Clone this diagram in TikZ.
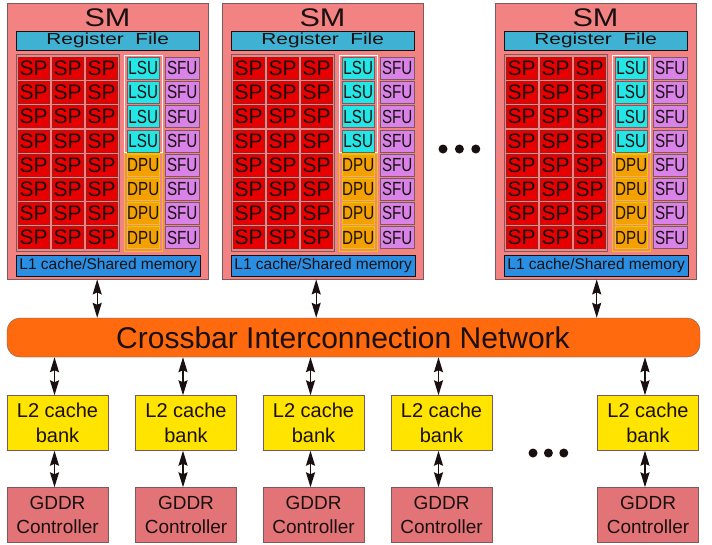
\documentclass[tikz,border=0pt]{standalone}
\usepackage{fontspec}
\setmainfont{Liberation Sans}
\newfontfamily\narrowfont[FakeStretch=0.8]{Liberation Sans}
\newfontfamily\widefont[FakeStretch=1.2]{Liberation Sans}
\newfontfamily\regfont[FakeStretch=1.3]{Liberation Sans}
\usepackage{xcolor}
\usetikzlibrary{arrows.meta,positioning}

\definecolor{ink}{HTML}{1A1010}
\definecolor{smred}{HTML}{F38383}
\definecolor{smline}{HTML}{7A5A5A}
\definecolor{regblue}{HTML}{3FB2D4}
\definecolor{lcacheblue}{HTML}{2A8FE3}
\definecolor{spred}{HTML}{E80000}
\definecolor{spline}{HTML}{9A2020}
\definecolor{lsucyan}{HTML}{24E6E6}
\definecolor{dpuorange}{HTML}{F2A100}
\definecolor{dpuline}{HTML}{E8C800}
\definecolor{sfuviolet}{HTML}{D982E8}
\definecolor{xbarorange}{HTML}{FF6A0E}
\definecolor{ltwoyellow}{HTML}{FFE400}
\definecolor{gddrrose}{HTML}{E27478}

\begin{document}
\begin{tikzpicture}[x=1pt, y=-1pt,
  every node/.style={inner sep=0pt, text=ink},
  sm/.style={draw=smline, fill=smred, anchor=north west,
    minimum width=201pt, minimum height=276pt},
  regf/.style={draw=ink, fill=regblue, anchor=north west,
    minimum width=183pt, minimum height=19pt,
    font=\regfont\fontsize{16}{16}\selectfont},
  lcache/.style={draw=ink, fill=lcacheblue, anchor=north west,
    minimum width=184pt, minimum height=21pt,
    font=\fontsize{15.5}{15.5}\selectfont},
  grp/.style={anchor=north west, minimum width=38pt},
  spgrp/.style={draw=smline, fill=smred, anchor=north west,
    minimum width=103pt, minimum height=197pt},
  cell/.style={anchor=north west, minimum height=22pt},
  spcell/.style={cell, draw=spline, fill=spred, minimum width=31pt,
    font=\fontsize{21}{21}\selectfont},
  lsucell/.style={cell, draw=smline, fill=lsucyan, minimum width=32pt,
    font=\narrowfont\fontsize{19}{19}\selectfont},
  dpucell/.style={cell, draw=dpuline, fill=dpuorange, minimum width=32pt,
    font=\narrowfont\fontsize{19}{19}\selectfont},
  sfucell/.style={cell, draw=smline, fill=sfuviolet, minimum width=34pt,
    font=\narrowfont\fontsize{19}{19}\selectfont},
  xbarbox/.style={draw=smline, fill=xbarorange, rounded corners=13pt,
    minimum width=693pt, minimum height=39pt},
  ltwo/.style={draw=smline, fill=ltwoyellow, align=center,
    minimum width=101pt, minimum height=55pt,
    font=\fontsize{20}{25}\selectfont},
  gddr/.style={draw=smline, fill=gddrrose, align=center,
    minimum width=101pt, minimum height=55pt,
    font=\fontsize{19}{24}\selectfont},
  dot/.style={circle, fill=ink, minimum size=9pt},
  dbl/.style={{Stealth[length=15pt,width=9pt,inset=2pt]}-{Stealth[length=15pt,width=9pt,inset=2pt]},
    line width=1.4pt, ink}]

  \path[use as bounding box, fill=white] (0,0) rectangle (712,544);

  % streaming multiprocessors
  \foreach \s/\x in {a/7, b/222, c/495} {
    \node[sm] (sm\s) at (\x,3) {};
    \node[font=\widefont\fontsize{25.5}{25.5}\selectfont] (smt\s) at ({\x+100.5},18) {SM};
    \node[regf] (rf\s) at ({\x+9},31) {Register\ \ File};
    \node[spgrp] (spg\s) at ({\x+9},54) {};
    \node[grp, draw=white, line width=1.2pt, minimum height=97pt] (lsug\s) at ({\x+117},54.5) {};
    \node[grp, draw=dpuline, line width=1.2pt, minimum height=98pt] (dpug\s) at ({\x+117},152.5) {};
    \foreach \r in {0,...,7} {
      \foreach \c in {0,1,2}
        \node[spcell] (sp\s\r\c) at ({\x+11+34*\c},{57+24.2*\r}) {SP};
      \node[sfucell] (sfu\s\r) at ({\x+158},{57+24.2*\r}) {SFU};
    }
    \foreach \r in {0,...,3}
      \node[lsucell] (lsu\s\r) at ({\x+120},{57+24.2*\r}) {LSU};
    \foreach \r in {4,...,7}
      \node[dpucell] (dpu\s\r) at ({\x+120},{57+24.2*\r}) {DPU};
    \node[lcache] (lone\s) at ({\x+9},255) {L1 cache/Shared memory};
  }

  \node[dot] (dotsa) at (443,149) {};
  \node[dot, right=7pt of dotsa] (dotsb) {};
  \node[dot, right=7pt of dotsb] (dotsc) {};

  % interconnect
  \node[xbarbox] (xbar) at (353.5,337.5) {};
  \node[font=\fontsize{30}{30}\selectfont] (xbartxt) at (343,338) {Crossbar Interconnection Network};

  \draw[dbl] ([xshift=-10.5pt]sma.south) -- ([xshift=-10.5pt]sma.south |- xbar.north);
  \draw[dbl] ([xshift=-6.5pt]smb.south) -- ([xshift=-6.5pt]smb.south |- xbar.north);
  \draw[dbl] ([xshift=1pt]smc.south) -- ([xshift=1pt]smc.south |- xbar.north);

  % memory side
  \foreach \n/\x in {a/57.5, b/186, c/313.5, d/441.5, e/648} {
    \node[ltwo] (ltwo\n) at (\x,423) {L2 cache\\bank};
    \node[gddr] (gddr\n) at (\x,515) {GDDR\\Controller};
    \draw[dbl] ([xshift=-3pt]ltwo\n.north |- xbar.south) -- ([xshift=-3pt]ltwo\n.north);
    \draw[dbl] ([xshift=-3pt]ltwo\n.south) -- ([xshift=-3pt]gddr\n.north);
  }

  \node[dot] (dotsd) at (533,453) {};
  \node[dot, right=6pt of dotsd] (dotse) {};
  \node[dot, right=6pt of dotse] (dotsf) {};
\end{tikzpicture}
\end{document}
